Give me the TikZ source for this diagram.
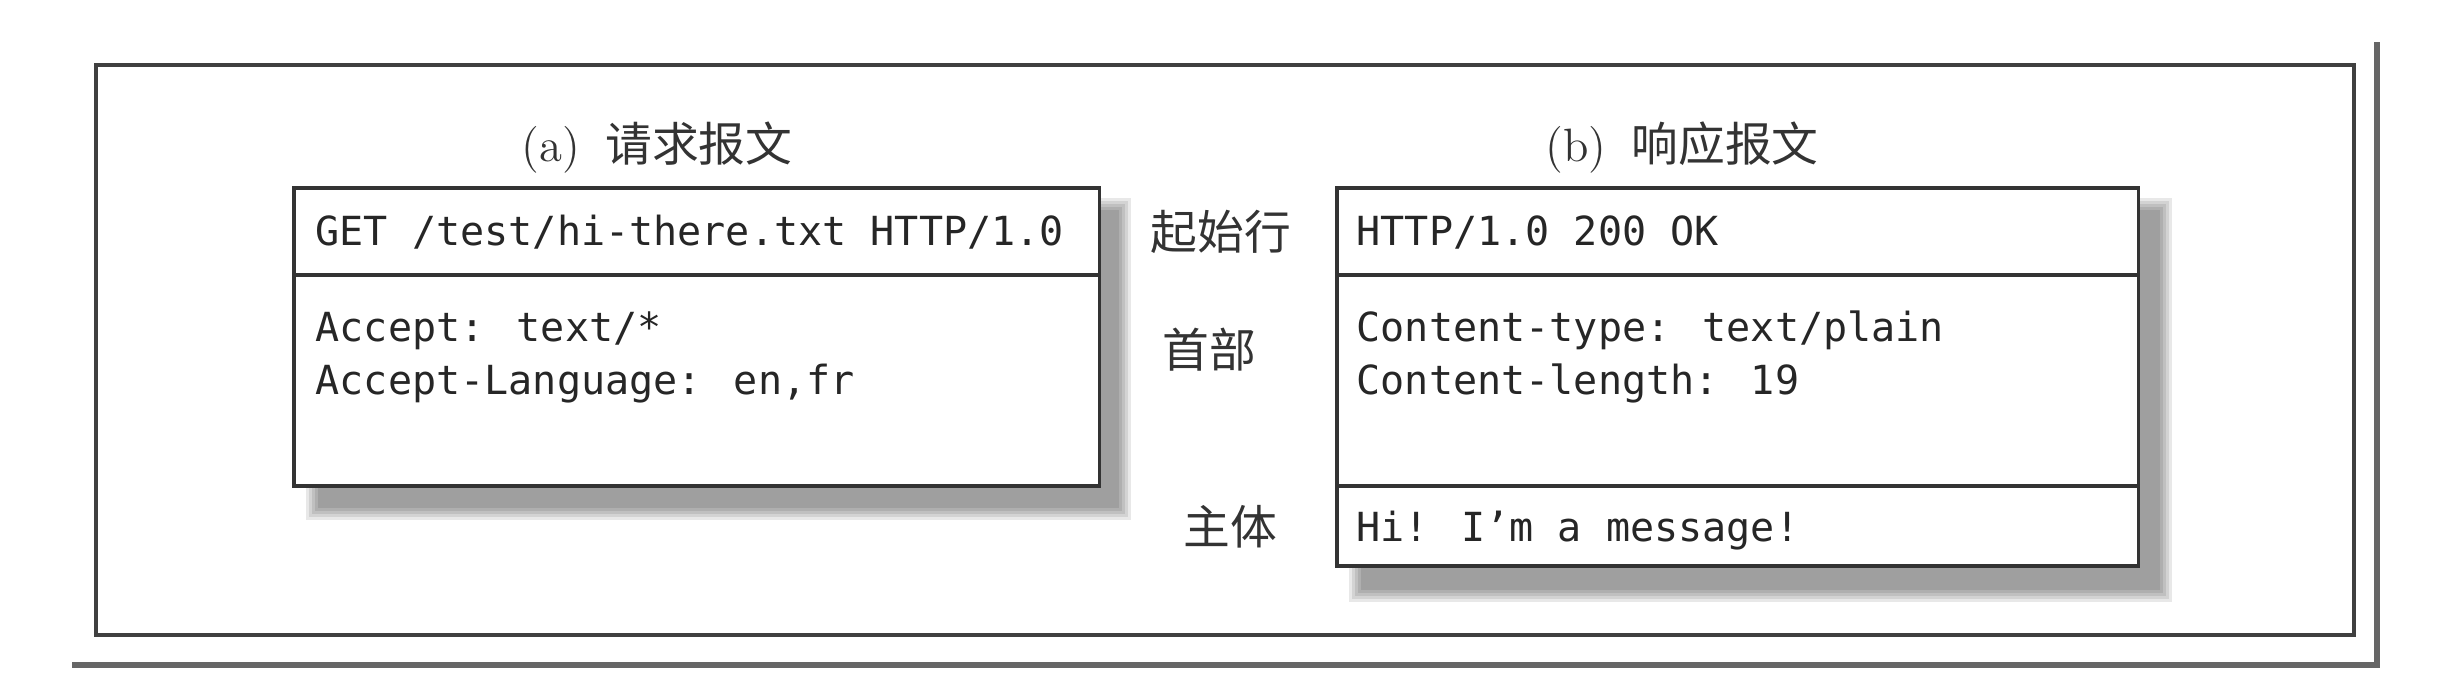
\documentclass[tikz,border=0pt]{standalone}
\usepackage{fontspec}
\newfontfamily\cjk{Noto Sans CJK SC}
\newfontfamily\msgmono{DejaVu Sans Mono}
\usetikzlibrary{positioning}
\usetikzlibrary{calc}
\tikzstyle{part}=[rectangle,draw=black!80,line width=1.1pt,fill=white,inner sep=0pt,outer sep=0pt,anchor=north west]
\tikzstyle{txt}=[inner sep=0pt,anchor=base west,text=black!85,font=\msgmono\fontsize{11.4pt}{15pt}\selectfont]
\tikzstyle{lbl}=[inner sep=0pt,text=black!80,font=\cjk\fontsize{13.3pt}{16pt}\selectfont]
\tikzstyle{boxshadow}=[fill=black,opacity=0.09]

\begin{document}
\begin{tikzpicture}[x=0.01cm,y=-0.01cm]
\useasboundingbox (0,0) rectangle (2438,694);

%outer frame
\draw[line width=1.3pt, black!75] (96,65) rectangle (2354,635);
\draw[line width=1.6pt, black!60] (72,665) -- (2377,665) -- (2377,42);

%shadows (soft edge)
\foreach \d in {-6,-3,0,3,6} {
\fill[boxshadow] (312+\d,204+\d) rectangle (1125-\d,514-\d);
\fill[boxshadow] (1355+\d,204+\d) rectangle (2166-\d,596-\d);
}

%request message
\node[lbl] (reqtitle) at (657,148) {{\rmfamily (a)}\hspace{0.25cm}请求报文};
\node[part, minimum width=8.05cm, minimum height=0.87cm] (reqstart) at (294,188) {};
\node[part, minimum width=8.05cm, minimum height=2.105cm, below=0pt of reqstart] (reqhead) {};
\node[txt] (reqline) at (315,245) {GET /test/hi-there.txt HTTP/1.0};
\node[txt] (reqacc) at (315,341) {Accept: text/*};
\node[txt] (reqlang) at (315,394) {Accept-Language: en,fr};

%labels
\node[lbl] (startlbl) at (1221,232) {起始行};
\node[lbl] (headlbl) at (1209,350) {首部};
\node[lbl] (bodylbl) at (1230,527) {主体};

%response message
\node[lbl] (restitle) at (1682,148) {{\rmfamily (b)}\hspace{0.25cm}响应报文};
\node[part, minimum width=8.01cm, minimum height=0.87cm] (resstart) at (1337,188) {};
\node[part, minimum width=8.01cm, minimum height=2.105cm, below=0pt of resstart] (reshead) {};
\node[part, minimum width=8.01cm, minimum height=0.8cm, below=0pt of reshead] (resbody) {};
\node[txt] (resline) at (1356,245) {HTTP/1.0 200 OK};
\node[txt] (restype) at (1356,341) {Content-type: text/plain};
\node[txt] (reslen) at (1356,394) {Content-length: 19};
\node[txt] (resmsg) at (1356,541) {Hi! I’m a message!};

\end{tikzpicture}
\end{document}
